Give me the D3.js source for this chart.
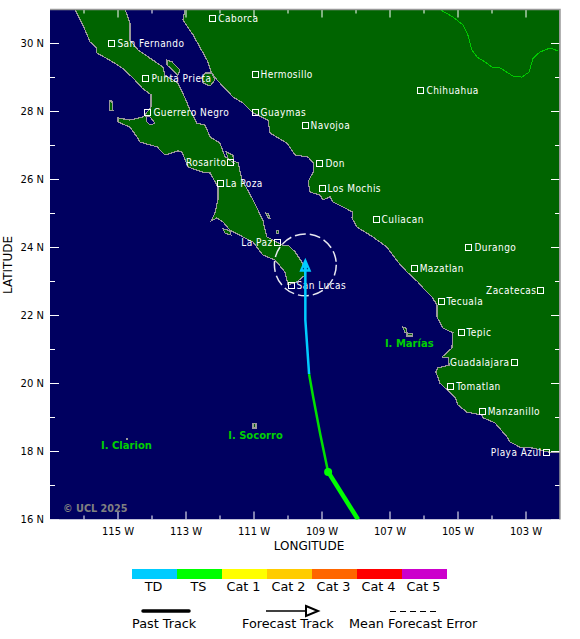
<!DOCTYPE html>
<html lang="en">
<head>
<meta charset="UTF-8">
<title>Storm track map</title>
<style>
    body { margin: 0; background: #fff; font-family: 'DejaVu Sans', sans-serif; }
    text { font-family: 'DejaVu Sans', sans-serif; }
    .city { fill: #fff; font-family: 'DejaVu Sans Condensed', 'DejaVu Sans', sans-serif; font-size: 10px; letter-spacing: 0.45px; }
    .island { fill: #00d000; font-size: 10px; font-weight: bold; }
    .tick-label { fill: #000; font-size: 10px; }
    .axis-title { fill: #000; font-size: 12px; }
    .legend-label { fill: #000; font-size: 12.8px; }
</style>
</head>
<body>
<svg id="chart" width="580" height="639"></svg>
<script src="https://d3js.org/d3.v7.min.js"></script>
<script>
// Coastlines as [degrees W, degrees N]
const bajaCoast = [
    [116.26,31],[116.03,30.54],[115.82,30.04],[115.65,29.9],[115.62,29.72],[115.24,29.51],[114.88,29.28],
    [114.56,28.99],[114.29,28.69],[114.03,28.49],[114.03,28.13],[114.21,27.9],[114.26,27.84],[114.65,27.75],
    [115,27.81],[115,27.69],[114.65,27.54],[114.44,27.25],[114.35,27.1],[113.85,26.96],[113.62,26.72],
    [113.24,26.84],[113.12,26.81],[112.94,26.37],[112.53,26.22],[112.29,26.19],[112.06,25.78],[112.06,25.4],
    [112.15,25.01],[112.26,24.78],[112.09,24.87],[111.91,24.75],[111.71,24.51],[111.03,24.16],[110.74,23.78],
    [110.38,23.63],[110.09,23.28],[110,22.9],[109.74,22.99],[109.5,23.19],[109.59,23.57],[109.79,23.87],
    [110,24.07],[110.15,24.07],[110.62,24.31],[110.71,24.66],[110.74,24.81],[111.03,25.4],[111.35,25.99],
    [111.47,26.49],[111.85,26.66],[112,27.07],[112.29,27.25],[112.44,27.6],[112.68,27.66],[112.88,28.04],
    [113.03,28.4],[113.24,28.84],[113.62,29.07],[113.68,29.31],[114.06,29.57],[114.41,29.81],[114.65,30.1],
    [114.65,30.6],[114.79,31]
];
const mainlandCoast = [
    [113.03,31],[113.09,30.69],[112.79,30.25],[112.38,29.51],[112.26,29.16],[112.09,28.93],[111.62,28.43],
    [111.32,28.25],[111.03,27.96],[110.59,27.75],[110.53,27.37],[110.03,27.07],[109.79,26.72],[109.41,26.66],
    [109.26,26.49],[109.26,26.22],[109.41,25.93],[109.35,25.63],[109.06,25.54],[108.97,25.4],[108.76,25.49],
    [108.68,25.34],[108.38,25.19],[108.09,25.04],[108.12,24.87],[107.97,24.6],[107.5,24.31],[107.09,24.01],
    [106.76,23.57],[106.5,23.28],[106.18,22.99],[106.03,22.81],[105.76,22.54],[105.62,22.31],[105.62,21.96],
    [105.44,21.63],[105.15,21.49],[105.18,21.04],[105.47,20.78],[105.29,20.75],[105.26,20.54],[105.59,20.46],
    [105.65,20.34],[105.53,20.01],[105.09,19.6],[105,19.37],[104.74,19.16],[104.29,19.07],[104.26,18.99],
    [103.91,18.84],[103.56,18.43],[103.47,18.28],[103.18,18.13],[102.79,18.1],[102.38,17.99],[102,17.96],
    [102,31]
];
const islands = [
    [[113.56,29.51],[113.41,29.46],[113.18,29.22],[113.24,29.07],[113.56,29.37]],
    [[112.44,29.13],[112.24,29.13],[112.15,28.93],[112.29,28.75],[112.5,28.84],[112.53,28.99]],
    [[115.26,28.31],[115.18,28.31],[115.15,28.04],[115.24,28.04]],
    [[111.82,26.81],[111.62,26.72],[111.59,26.49],[111.76,26.6]],
    [[110.65,25.01],[110.59,25],[110.53,24.87],[110.59,24.87]],
    [[111.91,24.55],[111.71,24.5],[111.68,24.37],[111.85,24.42]],
    [[110.35,24.5],[110.29,24.5],[110.29,24.42],[110.35,24.42]],
    [[106.62,21.66],[106.53,21.63],[106.5,21.51],[106.56,21.5]],
    [[106.5,21.47],[106.35,21.47],[106.35,21.4],[106.5,21.4]],
    [[111.03,18.82],[110.94,18.82],[110.94,18.69],[111.03,18.69]],
    [[114.76,18.38],[114.72,18.38],[114.72,18.36],[114.76,18.36]]
];
const lagoon = [[114.18,27.87],[114.06,27.84],[113.91,27.66],[114.06,27.6],[114.15,27.69]];
const stateBorder = [
    [105.53,31],[105.15,30.78],[104.85,30.54],[104.71,30.25],[104.59,29.81],[104.44,29.6],[104.21,29.46],
    [104,29.31],[103.76,29.28],[103.38,29.04],[103.12,29.01],[102.91,29.16],[102.79,29.57],[102.59,29.75],
    [102.29,29.87],[102.06,29.78]
];

// Cities
const cityNames = ['Caborca','San Fernando','Punta Prieta','Hermosillo','Guerrero Negro','Guaymas','Navojoa',
    'Chihuahua','Don','Los Mochis','Rosarito','La Poza','La Paz','San Lucas','Culiacan','Durango','Mazatlan',
    'Zacatecas','Tecuala','Tepic','Guadalajara','Tomatlan','Manzanillo','Playa Azul'];
const cityLon = [112.21,115.18,114.18,110.97,114.12,110.97,109.5,106.09,109.06,109,111.68,112,110.32,109.91,
    107.41,104.68,106.29,102.56,105.5,104.91,103.35,105.21,104.29,102.41];
const cityLat = [30.75,29.99,28.96,29.1,27.96,27.96,27.6,28.63,26.46,25.75,26.49,25.87,24.16,22.87,
    24.81,24.01,23.37,22.75,22.4,21.51,20.63,19.9,19.19,17.98];
const labelLeftOf = ['Rosarito','La Paz','Zacatecas','Guadalajara','Playa Azul'];

const islandNames = ['I. Marías','I. Socorro','I. Clarion'];
const islandLon = [107.15,111.76,115.5];
const islandLat = [21.07,18.37,18.07];

// Storm track
const pastTrack = [[107.94,16],[108.82,17.4]];
const tsTrack = [[108.82,17.4],[109.05,18.5],[109.26,19.6],[109.38,20.28]];
const tdTrack = [[109.38,20.28],[109.49,21.87],[109.49,23.49]];
const forecastPoint = [109.49,23.49];
const forecastError = 0.91;

// Axes and legend
const lonMajor = [115,113,111,109,107,105,103];
const lonMinor = [116,114,112,110,108,106,104];
const latMajor = [30,28,26,24,22,20,18,16];
const latMinor = [29,27,25,23,21,19,17];
const categories = ['TD','TS','Cat 1','Cat 2','Cat 3','Cat 4','Cat 5'];
const categoryColors = ['#00ccff','#00ff00','#ffff00','#ffcc00','#ff6600','#ff0000','#cc00cc'];

const svg = d3.select('#chart');
const plotLeft = 50, plotRight = 560, plotTop = 9.5, plotBottom = 519.5;
const x = d3.scaleLinear().domain([117,102]).range([plotLeft,plotRight]);
const y = d3.scaleLinear().domain([16,31]).range([plotBottom,plotTop]);
const geoLine = d3.line().x(d => x(d[0])).y(d => y(d[1]));

svg.append('clipPath').attr('id','map-clip').append('rect')
    .attr('x',plotLeft).attr('y',plotTop).attr('width',plotRight-plotLeft).attr('height',plotBottom-plotTop);

const map = svg.append('g').attr('clip-path','url(#map-clip)');
map.append('rect').attr('x',plotLeft).attr('y',plotTop).attr('width',plotRight-plotLeft).attr('height',plotBottom-plotTop).attr('fill','#000060');

map.selectAll('.land')
    .data([bajaCoast, mainlandCoast].concat(islands))
    .enter().append('path')
    .attr('class','land')
    .attr('d', d => geoLine(d) + 'Z')
    .attr('fill','#006400')
    .attr('stroke','#999')
    .attr('stroke-width',1.2)
    .attr('shape-rendering','crispEdges');
map.append('path').attr('d',geoLine(lagoon) + 'Z')
    .attr('fill','#000060').attr('stroke','#999').attr('shape-rendering','crispEdges');

map.append('path').attr('d',geoLine(stateBorder)).attr('fill','none').attr('stroke','#00c800').attr('stroke-width',1)
    .attr('shape-rendering','crispEdges');

// Frame and ticks
svg.append('path')
    .attr('d',`M${plotLeft},${plotTop}H${plotRight}V${plotBottom}`)
    .attr('fill','none').attr('stroke','#999').attr('stroke-width',1.5);

function addTicks(values, len) {
    values.forEach(v => {
        map.append('line').attr('x1',x(v)).attr('x2',x(v)).attr('y1',plotBottom).attr('y2',plotBottom-len).attr('stroke','#fff');
        map.append('line').attr('x1',x(v)).attr('x2',x(v)).attr('y1',plotTop).attr('y2',plotTop+len).attr('stroke','#fff');
    });
}
function addLatTicks(values, len) {
    values.forEach(v => {
        map.append('line').attr('x1',plotLeft).attr('x2',plotLeft+len).attr('y1',y(v)).attr('y2',y(v)).attr('stroke','#fff');
        map.append('line').attr('x1',plotRight).attr('x2',plotRight-len).attr('y1',y(v)).attr('y2',y(v)).attr('stroke','#fff');
    });
}
addTicks(lonMajor,8); addTicks(lonMinor,4);
addLatTicks(latMajor,9); addLatTicks(latMinor,5);

svg.selectAll('.lon-label').data(lonMajor).enter().append('text')
    .attr('class','tick-label').attr('x',d => x(d)).attr('y',535).attr('text-anchor','middle').text(d => d + ' W');
svg.selectAll('.lat-label').data(latMajor).enter().append('text')
    .attr('class','tick-label').attr('x',44).attr('y',d => y(d)+3.5).attr('text-anchor','end').text(d => d + ' N');
svg.append('text').attr('class','axis-title').attr('x',309).attr('y',550).attr('text-anchor','middle').text('LONGITUDE');
svg.append('text').attr('class','axis-title').attr('transform','translate(12,265) rotate(-90)').attr('text-anchor','middle').text('LATITUDE');

// Cities
cityNames.forEach((name,i) => {
    const cx = x(cityLon[i]), cy = y(cityLat[i]);
    const onLeft = labelLeftOf.includes(name);
    map.append('rect').attr('x',cx-3).attr('y',cy-3).attr('width',6).attr('height',6)
        .attr('fill','none').attr('stroke','#fff').attr('stroke-width',1).attr('shape-rendering','crispEdges');
    map.append('text').attr('class','city')
        .attr('x',onLeft ? cx-4.5 : cx+5.5).attr('y',cy+3.5)
        .attr('text-anchor',onLeft ? 'end' : 'start').text(name);
});

map.selectAll('.island').data(islandNames).enter().append('text')
    .attr('class','island').attr('x',(d,i) => x(islandLon[i])).attr('y',(d,i) => y(islandLat[i]))
    .text(d => d);
map.append('text').attr('x',63).attr('y',511.5).attr('fill','#808080').attr('font-size',9.7).attr('font-weight','bold').text('© UCL 2025');

// Storm
map.append('circle').attr('cx',x(forecastPoint[0])).attr('cy',y(forecastPoint[1]))
    .attr('r',x(forecastPoint[0]-forecastError)-x(forecastPoint[0]))
    .attr('fill','none').attr('stroke','#e8e8f0').attr('stroke-width',1.5).attr('stroke-dasharray','11 4');
map.append('path').attr('d',geoLine(pastTrack)).attr('fill','none').attr('stroke','#00ff00').attr('stroke-width',4.5);
map.append('path').attr('d',geoLine(tsTrack)).attr('fill','none').attr('stroke','#00e000').attr('stroke-width',2.5);
map.append('path').attr('d',geoLine(tdTrack)).attr('fill','none').attr('stroke','#00ccff').attr('stroke-width',2.5);
map.append('circle').attr('cx',x(pastTrack[1][0])).attr('cy',y(pastTrack[1][1])).attr('r',4).attr('fill','#00ff00');
const tipX = x(forecastPoint[0]), tipY = y(forecastPoint[1]);
map.append('path').attr('d',`M${tipX},${tipY-7}L${tipX+6},${tipY+7}H${tipX-6}Z`).attr('fill','#00ccff');
[-2,2].forEach(dx => map.append('rect').attr('x',tipX+dx-0.5).attr('y',tipY+3).attr('width',1.2).attr('height',1.5).attr('fill','#004080'));

// Legend
const legendX = d3.scaleBand().domain(categories).range([132,447]);
svg.selectAll('.legend-bar').data(categories).enter().append('rect')
    .attr('x',d => legendX(d)).attr('y',569).attr('width',legendX.bandwidth()).attr('height',10)
    .attr('fill',(d,i) => categoryColors[i]);
svg.selectAll('.legend-label').data(categories).enter().append('text')
    .attr('class','legend-label').attr('x',d => legendX(d)+legendX.bandwidth()/2-1).attr('y',591)
    .attr('text-anchor','middle').text(d => d);

svg.append('line').attr('x1',143).attr('x2',189).attr('y1',611).attr('y2',611)
    .attr('stroke','#000').attr('stroke-width',3.5).attr('stroke-linecap','round');
svg.append('text').attr('class','legend-label').attr('x',132).attr('y',628).text('Past Track');
svg.append('line').attr('x1',266).attr('x2',306).attr('y1',611).attr('y2',611).attr('stroke','#000').attr('stroke-width',1.5);
svg.append('path').attr('d','M306,606L318,611L306,616Z').attr('fill','#fff').attr('stroke','#000').attr('stroke-width',2);
svg.append('text').attr('class','legend-label').attr('x',242).attr('y',628).text('Forecast Track');
svg.append('line').attr('x1',390).attr('x2',436).attr('y1',611.5).attr('y2',611.5)
    .attr('stroke','#000').attr('stroke-width',1).attr('stroke-dasharray','6 4');
svg.append('text').attr('class','legend-label').attr('x',349).attr('y',628).text('Mean Forecast Error');
</script>
</body>
</html>
